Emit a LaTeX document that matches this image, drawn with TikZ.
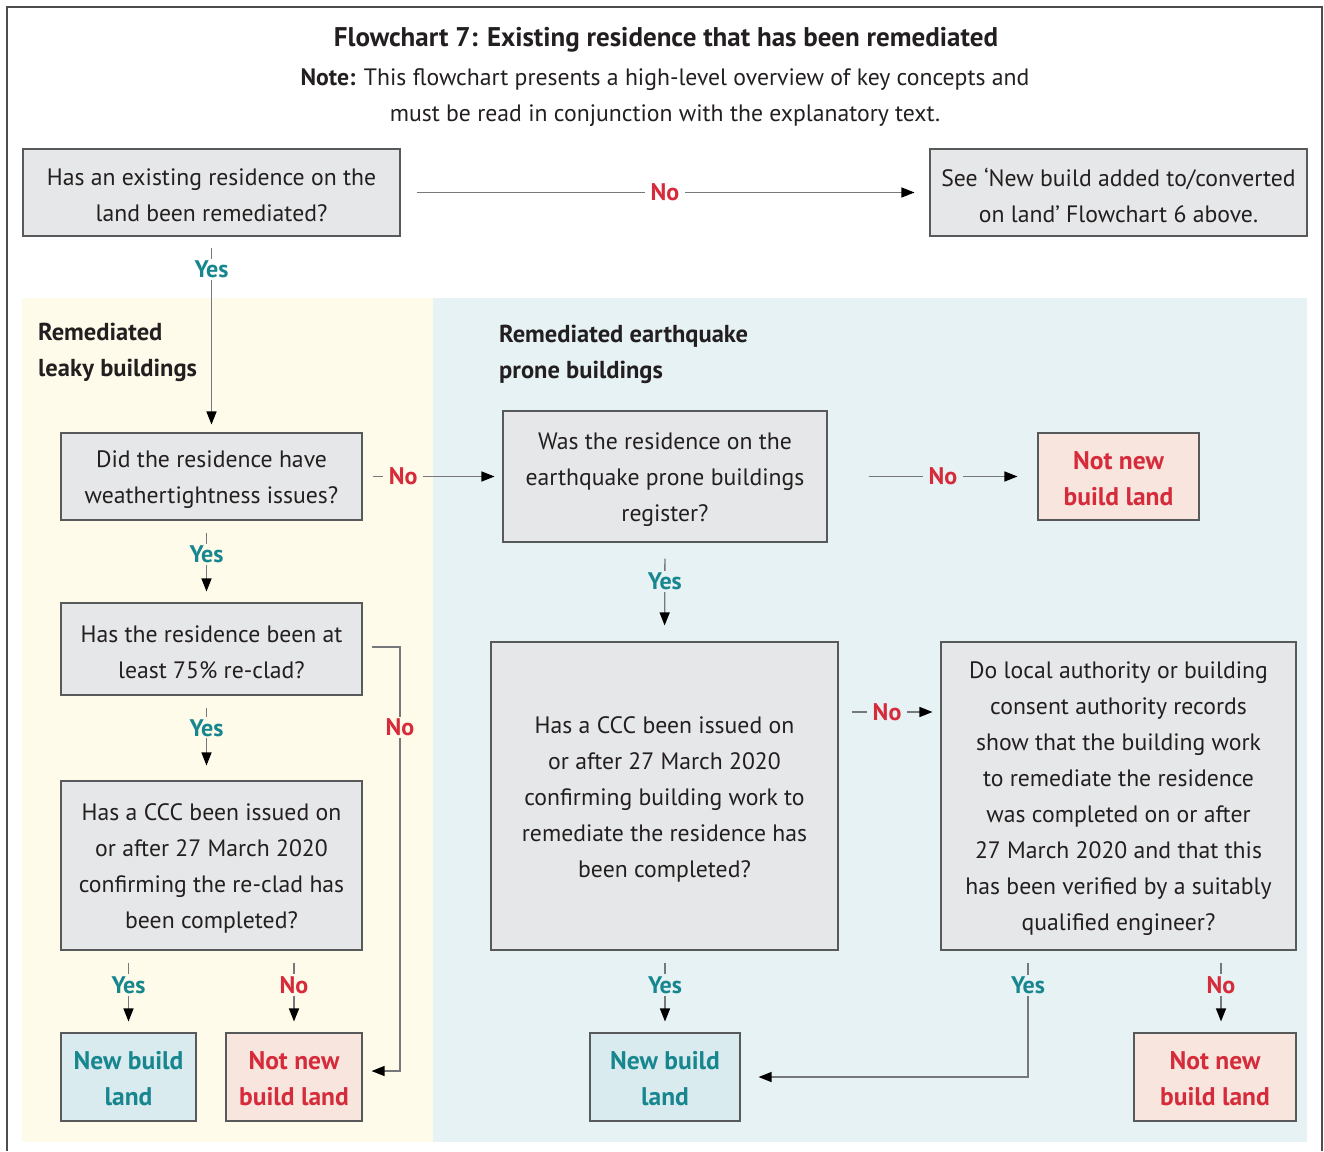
\documentclass[tikz,border=0pt]{standalone}
\usepackage{fontspec}
\setmainfont{PT Sans}
\usetikzlibrary{arrows.meta}
\definecolor{boxgray}{HTML}{E6E7E8}
\definecolor{boxline}{HTML}{58595B}
\definecolor{connc}{HTML}{77787B}
\definecolor{yelbg}{HTML}{FEFBEA}
\definecolor{blubg}{HTML}{E7F2F4}
\definecolor{yescol}{HTML}{17868F}
\definecolor{nocol}{HTML}{D52B3A}
\definecolor{pinkfill}{HTML}{F8E5DD}
\definecolor{tealfill}{HTML}{D9EBEE}
\definecolor{inkc}{HTML}{231F20}
\definecolor{framec}{HTML}{4D4D4F}
\newcommand{\bodyf}{\fontsize{23.7}{36}\selectfont}
\newcommand{\labf}{\bfseries\fontsize{24}{28}\selectfont}
\newcommand{\resf}{\bfseries\fontsize{25.5}{36}\selectfont}
\tikzset{
  qtext/.style={font=\bodyf, text=inkc, align=center, inner sep=0pt, yshift=-3pt},
  ytext/.style={font=\resf, text=yescol, align=center, inner sep=0pt, yshift=-2pt},
  ntext/.style={font=\resf, text=nocol, align=center, inner sep=0pt, yshift=-2pt},
  qbox/.style={draw=boxline, fill=boxgray, line width=1.1pt, inner sep=0pt, label={[qtext]center:{#1}}},
  yesbox/.style={draw=boxline, fill=tealfill, line width=1.1pt, inner sep=0pt, label={[ytext]center:{#1}}},
  nobox/.style={draw=boxline, fill=pinkfill, line width=1.1pt, inner sep=0pt, label={[ntext]center:{#1}}},
  conn/.style={draw=connc, line width=1.3pt, -{Triangle[length=13pt,width=10pt,color=black,fill=black]}},
  ylab/.style={font=\labf, text=yescol, fill=#1, inner xsep=6pt, inner ysep=2pt},
  nlab/.style={font=\labf, text=nocol, fill=#1, inner xsep=6pt, inner ysep=2pt},
  hdr/.style={font=\bfseries\fontsize{24.5}{36}\selectfont, text=inkc, align=left, inner sep=0pt, anchor=west, text depth=0pt}
}
\begin{document}
\begin{tikzpicture}[x=1pt,y=-1pt]
\useasboundingbox (0,0) rectangle (1324,1151);
\fill[white] (0,0) rectangle (1324,1151);
% frame
\draw[framec, line width=1.2pt] (7,1151) -- (7,7) -- (1322,7) -- (1322,1151);
% regions
\fill[yelbg] (22,298) rectangle (433,1142);
\fill[blubg] (433,298) rectangle (1307,1142);
% title
\node[font=\bfseries\fontsize{27}{30}\selectfont, text=inkc] (title) at (666,40) {Flowchart 7: Existing residence that has been remediated};
\node[font=\bodyf, text=inkc, align=center, text depth=0pt] (note) at (665,95) {\textbf{Note:} This flowchart presents a high-level overview of key concepts and\\must be read in conjunction with the explanatory text.};
% headers
\node[hdr] (h1) at (38,350) {Remediated\\leaky buildings};
\node[hdr] (h2) at (499,352) {Remediated earthquake\\prone buildings};
% boxes
\node[qbox={Has an existing residence on the\\land been remediated?}, minimum width=377pt, minimum height=87pt] (A) at (211.5,192.5) {};
\node[qbox={See ‘New build added to/converted\\on land’ Flowchart 6 above.}, minimum width=377pt, minimum height=87pt] (B) at (1118.5,192.5) {};
\node[qbox={Did the residence have\\weathertightness issues?}, minimum width=301pt, minimum height=87pt] (C) at (211.5,476.5) {};
\node[qbox={Was the residence on the\\earthquake prone buildings\\register?}, minimum width=324pt, minimum height=131pt] (D) at (665,476.5) {};
\node[nobox={Not new\\build land}, minimum width=161pt, minimum height=87pt] (E) at (1118.5,476.5) {};
\node[qbox={Has the residence been at\\least 75\% re-clad?}, minimum width=301pt, minimum height=92pt] (F) at (211.5,649) {};
\node[qbox={Has a CCC been issued on\\or after 27 March 2020\\confirming the re-clad has\\been completed?}, minimum width=301pt, minimum height=169pt] (G) at (211.5,865.5) {};
\node[yesbox={New build\\land}, minimum width=135pt, minimum height=88pt] (H) at (128.5,1077) {};
\node[nobox={Not new\\build land}, minimum width=136pt, minimum height=88pt] (J) at (294,1077) {};
\node[qbox={Has a CCC been issued on\\or after 27 March 2020\\confirming building work to\\remediate the residence has\\been completed?}, minimum width=347pt, minimum height=308pt] (K) at (664.5,796) {};
\node[qbox={Do local authority or building\\consent authority records\\show that the building work\\to remediate the residence\\was completed on or after\\27 March 2020 and that this\\has been verified by a suitably\\qualified engineer?}, minimum width=355pt, minimum height=308pt] (L) at (1118.5,796) {};
\node[yesbox={New build\\land}, minimum width=150pt, minimum height=88pt] (M) at (665,1077) {};
\node[nobox={Not new\\build land}, minimum width=162pt, minimum height=88pt] (N) at (1215,1077) {};
% connectors
\draw[conn, shorten <=16pt, shorten >=15pt] (A) -- node[nlab=white, pos=0.5] {No} (B);
\draw[conn, shorten <=11pt, shorten >=8pt] (A) -- node[ylab=white, pos=0.168] {Yes} (C);
\draw[conn, shorten <=10pt, shorten >=8pt] (C) -- node[nlab=yelbg, pos=0.29] {No} (D);
\draw[conn, shorten <=41pt, shorten >=20pt] (D) -- node[nlab=blubg, pos=0.55] {No} (E);
\draw[conn, shorten <=12pt, shorten >=11pt] ([xshift=-5pt]C.south) -- node[ylab=yelbg, pos=0.41] {Yes} ([xshift=-5pt]F.north);
\draw[conn, shorten <=12pt, shorten >=15pt] ([xshift=-5pt]F.south) -- node[ylab=yelbg, pos=0.38] {Yes} ([xshift=-5pt]G.north);
\coordinate (fc1) at (400,647);
\coordinate (fc2) at (400,1071);
\draw[conn, shorten <=9pt, shorten >=9pt] ([yshift=2pt]F.east) -- (fc1) -- node[nlab=yelbg, pos=0.19] {No} (fc2) -- ([yshift=6pt]J.east);
\draw[conn, shorten <=12pt, shorten >=11pt] (G.south -| H.north) -- node[ylab=yelbg, pos=0.42] {Yes} (H.north);
\draw[conn, shorten <=12pt, shorten >=11pt] (G.south -| J.north) -- node[nlab=yelbg, pos=0.42] {No} (J.north);
\draw[conn, shorten <=16pt, shorten >=16pt] (D.south) -- node[ylab=blubg, pos=0.39] {Yes} (K.north);
\draw[conn, shorten <=13pt, shorten >=8pt] ([yshift=84pt]K.east) -- node[nlab=blubg, pos=0.476] {No} ([yshift=84pt]L.west);
\draw[conn, shorten <=12pt, shorten >=11pt] (K.south -| M.north) -- node[ylab=blubg, pos=0.42] {Yes} (M.north);
\draw[conn, shorten <=12pt, shorten >=11pt] ([xshift=6pt]L.south -| N.north) -- node[nlab=blubg, pos=0.42] {No} ([xshift=6pt]N.north);
\draw[conn, shorten <=12pt, shorten >=18pt] ([xshift=-90.5pt]L.south) |- node[ylab=blubg, pos=0.138] {Yes} (M.east);
\end{tikzpicture}
\end{document}
